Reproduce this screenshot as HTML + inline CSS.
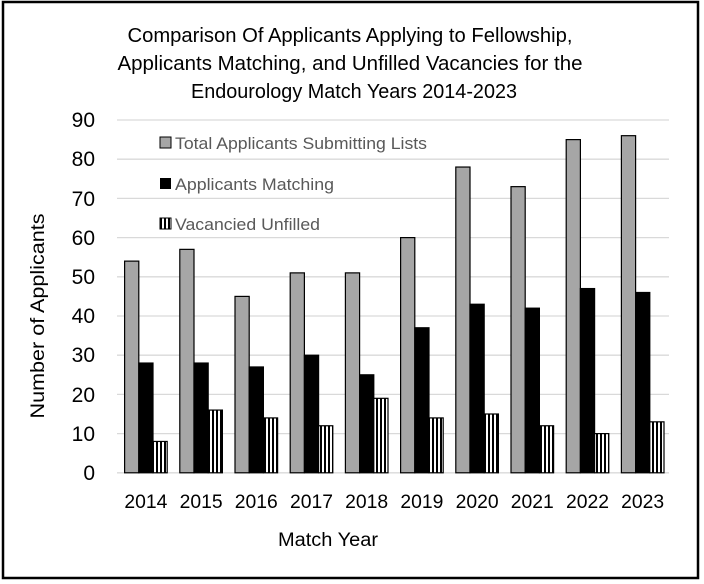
<!DOCTYPE html>
<html><head><meta charset="utf-8"><style>
html,body{margin:0;padding:0;background:#fff;}
svg{display:block;font-family:"Liberation Sans",sans-serif;}
</style></head><body>
<svg width="704" height="584" viewBox="0 0 704 584">
<defs>
<pattern id="st" width="4" height="10" patternUnits="userSpaceOnUse" x="0" y="0">
<rect width="4" height="10" fill="#fff"/><rect width="2" height="10" fill="#000"/>
</pattern>
</defs>
<rect x="3" y="2" width="695" height="576" fill="#fff" stroke="#000" stroke-width="2.5"/>
<g fill="#000" font-size="20" text-anchor="middle">
<text x="350" y="42" textLength="445" lengthAdjust="spacingAndGlyphs">Comparison Of Applicants Applying to Fellowship,</text>
<text x="350" y="70" textLength="465" lengthAdjust="spacingAndGlyphs">Applicants Matching, and Unfilled Vacancies for the</text>
<text x="354" y="98" textLength="326" lengthAdjust="spacingAndGlyphs">Endourology Match Years 2014-2023</text>
</g>
<g stroke="#d9d9d9" stroke-width="1.3">
<line x1="117" x2="669" y1="120" y2="120"/>
<line x1="117" x2="669" y1="159.2" y2="159.2"/>
<line x1="117" x2="669" y1="198.4" y2="198.4"/>
<line x1="117" x2="669" y1="237.6" y2="237.6"/>
<line x1="117" x2="669" y1="276.8" y2="276.8"/>
<line x1="117" x2="669" y1="316" y2="316"/>
<line x1="117" x2="669" y1="355.2" y2="355.2"/>
<line x1="117" x2="669" y1="394.4" y2="394.4"/>
<line x1="117" x2="669" y1="433.6" y2="433.6"/>
<line x1="117" x2="669" y1="472.8" y2="472.8"/>
</g>
<g font-size="21" fill="#000" text-anchor="end">
<text x="95" y="127">90</text><text x="95" y="166">80</text><text x="95" y="206">70</text>
<text x="95" y="245">60</text><text x="95" y="284">50</text><text x="95" y="323">40</text>
<text x="95" y="362">30</text><text x="95" y="402">20</text><text x="95" y="441">10</text>
<text x="95" y="480">0</text>
</g>
<g id="bars" stroke="#000" stroke-width="1.2"></g>
<g font-size="17" fill="#595959">
<rect x="160" y="137" width="11" height="11" fill="#a6a6a6" stroke="#000" stroke-width="1"/>
<text x="175" y="149" textLength="252" lengthAdjust="spacingAndGlyphs">Total Applicants Submitting Lists</text>
<rect x="160" y="178" width="11" height="11" fill="#000"/>
<text x="175" y="190" textLength="159" lengthAdjust="spacingAndGlyphs">Applicants Matching</text>
<rect x="160" y="218" width="11" height="11" fill="url(#st)" stroke="#000" stroke-width="1"/>
<text x="175" y="230" textLength="145" lengthAdjust="spacingAndGlyphs">Vacancied Unfilled</text>
</g>
<g font-size="19" fill="#000" text-anchor="middle" id="xl"></g>
<text x="328" y="546" font-size="19" text-anchor="middle" fill="#000" textLength="100" lengthAdjust="spacingAndGlyphs">Match Year</text>
<text transform="translate(44,316) rotate(-90)" font-size="19" text-anchor="middle" fill="#000" textLength="205" lengthAdjust="spacingAndGlyphs">Number of Applicants</text>
<script>
var d=[[54,28,8],[57,28,16],[45,27,14],[51,30,12],[51,25,19],[60,37,14],[78,43,15],[73,42,12],[85,47,10],[86,46,13]];
var g=document.getElementById('bars'),xl=document.getElementById('xl'),ns='http://www.w3.org/2000/svg';
var fills=['#a6a6a6','#000','url(#st)'];
d.forEach(function(r,i){
 var x0=124.6+i*55.2;
 r.forEach(function(v,j){
  var h=v*3.92,e=document.createElementNS(ns,'rect');
  e.setAttribute('x',x0+j*14.2);e.setAttribute('y',472.8-h);
  e.setAttribute('width',14.2);e.setAttribute('height',h);
  e.setAttribute('fill',fills[j]);g.appendChild(e);
 });
 var t=document.createElementNS(ns,'text');t.setAttribute('x',x0+21.3);t.setAttribute('y',508);
 t.setAttribute('textLength',43);t.setAttribute('lengthAdjust','spacingAndGlyphs');
 t.textContent=2014+i;xl.appendChild(t);
});
</script>
</svg>
</body></html>
